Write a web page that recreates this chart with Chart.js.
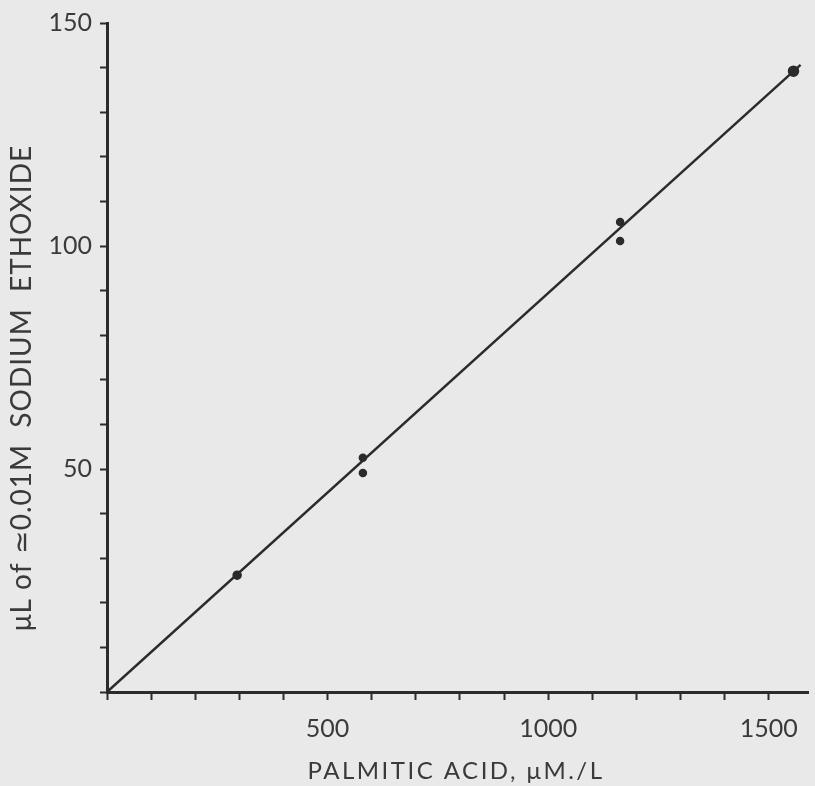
<!DOCTYPE html>
<html>
<head>
<meta charset="utf-8">
<script src="https://cdn.jsdelivr.net/npm/chart.js@4.4.1/dist/chart.umd.min.js"></script>
<style>
  html,body{margin:0;padding:0;background:#e9e9e9;}
  canvas{display:block;}
</style>
</head>
<body>
<canvas id="c" width="815" height="786"></canvas>
<script>
// data
const acidX   = [295, 580, 580, 1163, 1163, 1556];      // palmitic acid, uM/L
const ethoxY  = [26.2, 52.5, 49.1, 105.4, 101.1, 139.2]; // uL of ethoxide
const fitX    = [0, 1572];
const fitY    = [0, 140.6];
const xTicks  = [500, 1000, 1500];
const yTicks  = [50, 100, 150];
const xTitle  = "PALMITIC ACID, \u03BCM./L";
const yTitle  = "\u03BCL of \u22430.01M  SODIUM  ETHOXIDE";

const ink = "#2b2b2b";
const txt = "#3a3a3a";

// axis titles drawn by hand so they sit where the original lettering is
const titles = {
  id: "titles",
  afterDraw(chart){
    const c = chart.ctx;
    c.save();
    c.fillStyle = txt;
    c.textAlign = "center";
    c.textBaseline = "middle";
    c.font = "24px Lato";
    c.letterSpacing = "2.5px";
    c.fillText(xTitle, 456, 771);
    c.translate(22, 388);
    c.rotate(-Math.PI/2);
    c.font = "28px Lato";
    c.letterSpacing = "1px";
    c.fillText(yTitle, 0, 0);
    c.restore();
  }
};

new Chart(document.getElementById("c"), {
  type: "scatter",
  data: {
    datasets: [
      {
        type: "line",
        data: fitX.map((x,i)=>({x, y: fitY[i]})),
        borderColor: ink, borderWidth: 2.5, pointRadius: 0, fill: false
      },
      {
        data: acidX.map((x,i)=>({x, y: ethoxY[i]})),
        backgroundColor: ink, borderColor: ink, borderWidth: 1.5,
        pointRadius: [4, 3.5, 3.5, 3.5, 3.5, 5]
      }
    ]
  },
  options: {
    responsive: false,
    animation: false,
    layout: { padding: { top: 23, right: 0, left: 0, bottom: 0 } },
    plugins: { legend: {display:false}, tooltip: {enabled:false} },
    scales: {
      x: {
        type: "linear", min: 0, max: 1590,
        // minor ticks every 100 up to the last labelled one
        afterBuildTicks(s){
          const t = [];
          for (let v = 0; v <= 1500; v += 100) t.push({ value: v });
          s.ticks = t;
        },
        afterFit(s){ s.height = 94; s.paddingRight = 0; s.paddingLeft = 0; },
        border: { display: true, color: ink, width: 3 },
        grid: { drawOnChartArea: false, tickLength: 8, tickColor: ink, tickWidth: 2 },
        ticks: {
          autoSkip: false, maxRotation: 0, padding: 14,
          color: txt, font: { family: "Lato", size: 25 },
          callback: v => xTicks.includes(v) ? String(v) : ""
        }
      },
      y: {
        type: "linear", min: 0, max: 150,
        afterFit(s){ s.width = 107; },
        border: { display: true, color: ink, width: 3 },
        grid: { drawOnChartArea: false, tickLength: 7, tickColor: ink, tickWidth: 2 },
        ticks: {
          stepSize: 10, autoSkip: false, padding: 8,
          color: txt, font: { family: "Lato", size: 25 },
          callback: v => yTicks.includes(v) ? String(v) : ""
        }
      }
    }
  },
  plugins: [titles]
});
</script>
</body>
</html>
